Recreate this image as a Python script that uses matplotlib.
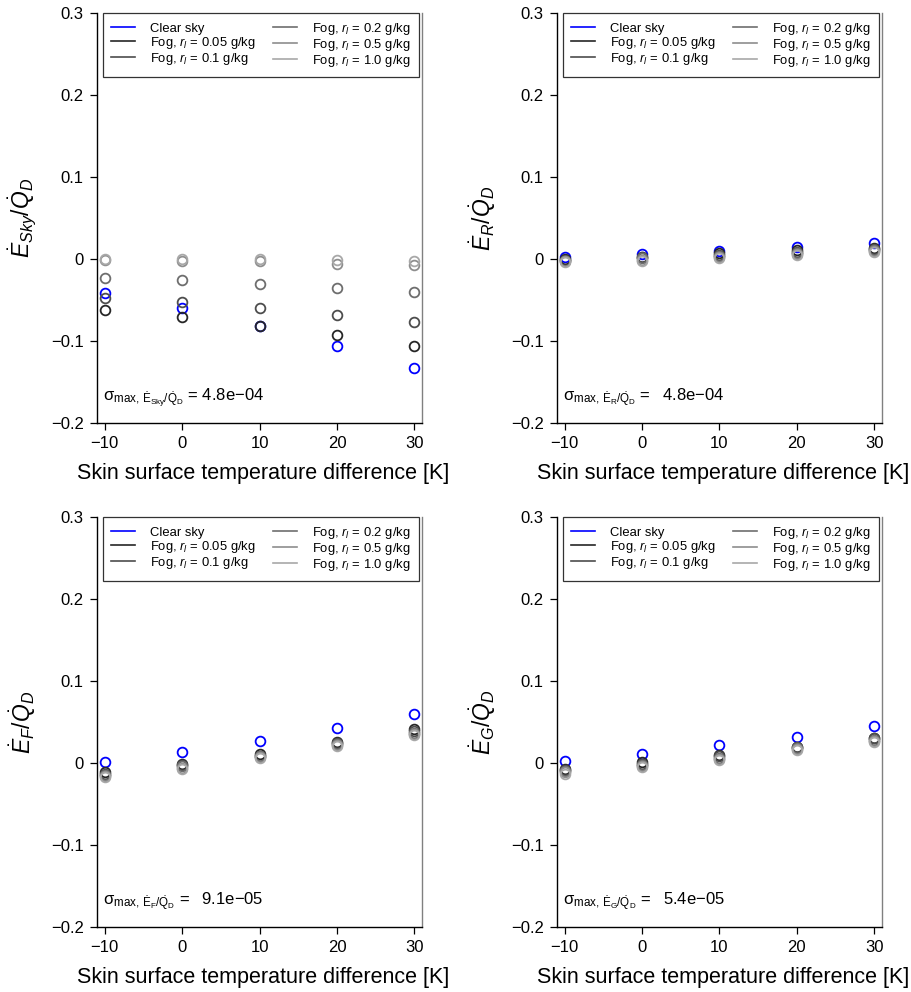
import matplotlib
matplotlib.use("Agg")
import matplotlib.pyplot as plt
from matplotlib.lines import Line2D

plt.rcParams["font.family"] = ["Liberation Sans", "DejaVu Sans"]
plt.rcParams["mathtext.fontset"] = "custom"
plt.rcParams["mathtext.rm"] = "Liberation Sans"
plt.rcParams["mathtext.it"] = "Liberation Sans:italic"
plt.rcParams["mathtext.bf"] = "Liberation Sans:bold"

# Skin surface temperature difference [K]
dT = [-10, 0, 10, 20, 30]

fog_labels = ["0.05", "0.1", "0.2", "0.5", "1.0"]
fog_colors = ["#262626", "#4d4d4d", "#6e6e6e", "#8e8e8e", "#a8a8a8"]
clear_color = "#0000ff"

# Sky exchange term
sky_clear = [-0.041, -0.060, -0.082, -0.106, -0.133]
sky_fog005 = [-0.062, -0.071, -0.082, -0.093, -0.106]
sky_fog01 = [-0.047, -0.053, -0.060, -0.068, -0.077]
sky_fog02 = [-0.023, -0.026, -0.030, -0.035, -0.040]
sky_fog05 = [-0.001, -0.002, -0.003, -0.006, -0.007]
sky_fog10 = [0.000, 0.000, 0.000, -0.001, -0.002]

# R term
r_clear = [0.003, 0.0065, 0.010, 0.0146, 0.0196]
r_fog005 = [0.000, 0.003, 0.007, 0.011, 0.0135]
r_fog01 = [-0.001, 0.002, 0.005, 0.009, 0.012]
r_fog02 = [-0.002, 0.001, 0.004, 0.007, 0.011]
r_fog05 = [-0.003, -0.001, 0.002, 0.006, 0.010]
r_fog10 = [-0.004, -0.002, 0.001, 0.005, 0.009]

# F term
f_clear = [0.0012, 0.0135, 0.027, 0.0426, 0.0593]
f_fog005 = [-0.011, -0.001, 0.011, 0.026, 0.041]
f_fog01 = [-0.013, -0.003, 0.009, 0.024, 0.039]
f_fog02 = [-0.015, -0.004, 0.008, 0.023, 0.037]
f_fog05 = [-0.016, -0.006, 0.007, 0.022, 0.035]
f_fog10 = [-0.017, -0.007, 0.006, 0.021, 0.034]

# G term
g_clear = [0.0025, 0.0115, 0.022, 0.0322, 0.0446]
g_fog005 = [-0.007, 0.001, 0.0095, 0.020, 0.031]
g_fog01 = [-0.008, -0.001, 0.008, 0.019, 0.030]
g_fog02 = [-0.010, -0.002, 0.006, 0.018, 0.028]
g_fog05 = [-0.011, -0.004, 0.005, 0.017, 0.027]
g_fog10 = [-0.013, -0.005, 0.004, 0.016, 0.026]

sigma_text = ["4.8e\u221204", "4.8e\u221204", "9.1e\u221205", "5.4e\u221205"]
subs = ["Sky", "R", "F", "G"]
sigma_gap = ["", "\u2002", "\u2002", "\u2002"]

panels = [
    (sky_clear, [sky_fog005, sky_fog01, sky_fog02, sky_fog05, sky_fog10]),
    (r_clear, [r_fog005, r_fog01, r_fog02, r_fog05, r_fog10]),
    (f_clear, [f_fog005, f_fog01, f_fog02, f_fog05, f_fog10]),
    (g_clear, [g_fog005, g_fog01, g_fog02, g_fog05, g_fog10]),
]

fig = plt.figure(figsize=(9.12, 9.92), dpi=100)
positions = [
    [0.1064, 0.5736, 0.3564, 0.4133],
    [0.6107, 0.5736, 0.3564, 0.4133],
    [0.1064, 0.0655, 0.3564, 0.4133],
    [0.6107, 0.0655, 0.3564, 0.4133],
]

for i, (pos, (clear, fogs)) in enumerate(zip(positions, panels)):
    ax = fig.add_axes(pos)
    ax.plot(dT, clear, linestyle="none", marker="o", ms=7, mfc="none",
            mec=clear_color, mew=1.3)
    for vals, col in zip(fogs, fog_colors):
        ax.plot(dT, vals, linestyle="none", marker="o", ms=7, mfc="none",
                mec=col, mew=1.3)

    ax.set_xlim(-11, 31)
    ax.set_ylim(-0.2, 0.3)
    ax.set_xticks(dT)
    ax.set_xticklabels(["\u221210", "0", "10", "20", "30"])
    ax.set_yticks([-0.2, -0.1, 0, 0.1, 0.2, 0.3])
    ax.set_yticklabels(["\u22120.2", "\u22120.1", "0", "0.1", "0.2", "0.3"])
    ax.tick_params(axis="both", direction="out", length=5, width=0.9,
                   labelsize=12, pad=4.5)

    ax.spines["top"].set_visible(False)
    ax.spines["left"].set_color("black")
    ax.spines["bottom"].set_color("black")
    ax.spines["right"].set_color("#808080")
    for s in ("left", "bottom", "right"):
        ax.spines[s].set_linewidth(1.0)

    ax.set_xlabel("Skin surface temperature difference [K]", fontsize=15.5)
    ax.xaxis.set_label_coords(0.512, -0.098)
    ax.set_ylabel(r"$\dot{E}_{%s}/\dot{Q}_D$" % subs[i], fontsize=16.5,
                  labelpad=9)

    handles = [Line2D([], [], color=clear_color, lw=1.2)]
    labels = ["Clear sky"]
    for lab, col in zip(fog_labels, fog_colors):
        handles.append(Line2D([], [], color=col, lw=1.2))
        labels.append(r"Fog, $r_l$ = %s g/kg" % lab)
    leg = ax.legend(handles, labels, ncol=2, loc="upper left",
                    bbox_to_anchor=(0.018, 1.0),
                    borderaxespad=0, fontsize=9.4, frameon=True,
                    fancybox=False, edgecolor="black", handlelength=1.85,
                    handletextpad=1.15, labelspacing=0.0, borderpad=0.6,
                    columnspacing=1.35)
    leg.get_frame().set_linewidth(0.9)

    ax.text(0.018, 0.061,
            "\u03c3" + r"$_{\mathrm{max},\,\dot{\mathrm{E}}_{\mathrm{%s}}/\dot{\mathrm{Q}}_{\mathrm{D}}}$" % subs[i]
            + " = " + sigma_gap[i] + sigma_text[i],
            transform=ax.transAxes, fontsize=12, va="center", ha="left")

fig.savefig("out.png", dpi=100)
